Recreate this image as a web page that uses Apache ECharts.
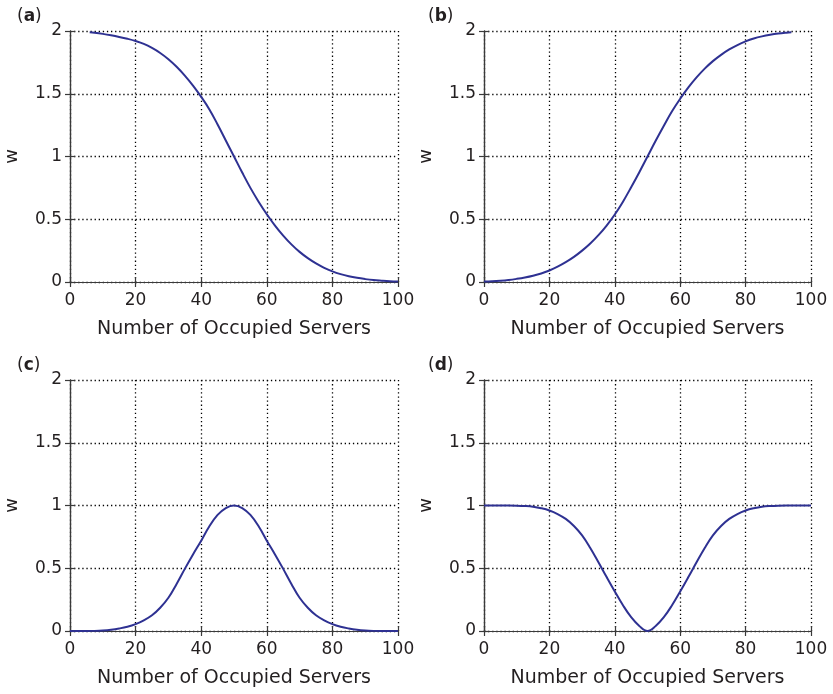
<!DOCTYPE html>
<html>
<head>
<meta charset="utf-8">
<script src="https://cdn.jsdelivr.net/npm/echarts@6/dist/echarts.min.js"></script>
<style>
html,body{margin:0;padding:0;background:#fff;}
#chart{width:833px;height:694px;}
</style>
</head>
<body>
<div id="chart"></div>
<script>
// ---- data ----
const panelLabels = ['a', 'b', 'c', 'd'];
const xTicks = [0, 20, 40, 60, 80, 100];
const yTicks = [0, 0.5, 1, 1.5, 2];
const xName = 'Number of Occupied Servers';
const yName = 'w';

const xA = [6, 7.5, 10, 12.5, 15, 17.5, 20, 22.5, 25, 27.5, 30, 32.5, 35, 37.5, 40, 42.5, 45, 47.5, 50,
            52.5, 55, 57.5, 60, 62.5, 65, 67.5, 70, 72.5, 75, 77.5, 80, 82.5, 85, 87.5, 90, 92.5, 95, 97.5, 100];
const wA = [1.99, 1.986, 1.977, 1.966, 1.953, 1.938, 1.92, 1.897, 1.865, 1.825, 1.775, 1.715, 1.645, 1.565, 1.475, 1.375, 1.255, 1.128, 1.0,
            0.872, 0.75, 0.64, 0.54, 0.45, 0.37, 0.3, 0.24, 0.19, 0.148, 0.113, 0.085, 0.063, 0.046, 0.033, 0.023, 0.015, 0.01, 0.006, 0.004];

const xB = [0, 2.5, 5, 7.5, 10, 12.5, 15, 17.5, 20, 22.5, 25, 27.5, 30, 32.5, 35, 37.5, 40, 42.5, 45, 47.5, 50,
            52.5, 55, 57.5, 60, 62.5, 65, 67.5, 70, 72.5, 75, 77.5, 80, 82.5, 85, 87.5, 90, 92.5, 94];
const wB = [0.004, 0.006, 0.01, 0.016, 0.025, 0.036, 0.05, 0.068, 0.092, 0.122, 0.158, 0.2, 0.25, 0.307, 0.373, 0.45, 0.538, 0.64, 0.755, 0.875, 1.0,
            1.125, 1.245, 1.36, 1.46, 1.55, 1.63, 1.7, 1.76, 1.81, 1.853, 1.888, 1.917, 1.94, 1.957, 1.97, 1.98, 1.987, 1.99];

const xC = [0, 2.5, 5, 7.5, 10, 12.5, 15, 17.5, 20, 22.5, 25, 27.5, 30, 32.5, 35, 37.5, 40, 42.5, 45, 47.5, 50,
            52.5, 55, 57.5, 60, 62.5, 65, 67.5, 70, 72.5, 75, 77.5, 80, 82.5, 85, 87.5, 90, 92.5, 95, 97.5, 100];
const wC = [0, 0, 0, 0.001, 0.004, 0.01, 0.02, 0.034, 0.055, 0.085, 0.125, 0.185, 0.265, 0.375, 0.495, 0.61, 0.72, 0.835, 0.925, 0.98, 1.0,
            0.98, 0.925, 0.835, 0.72, 0.61, 0.495, 0.375, 0.265, 0.185, 0.125, 0.085, 0.055, 0.034, 0.02, 0.01, 0.004, 0.001, 0, 0, 0];

const xD = [0, 2.5, 5, 7.5, 10, 12.5, 15, 17.5, 20, 22.5, 25, 27.5, 30, 32.5, 35, 37.5, 40, 42.5, 45, 47.5, 50,
            52.5, 55, 57.5, 60, 62.5, 65, 67.5, 70, 72.5, 75, 77.5, 80, 82.5, 85, 87.5, 90, 92.5, 95, 97.5, 100];
const wD = [1, 1, 1, 1, 0.999, 0.996, 0.99, 0.978, 0.96, 0.932, 0.893, 0.837, 0.762, 0.662, 0.548, 0.43, 0.315, 0.205, 0.11, 0.04, 0.0,
            0.04, 0.11, 0.205, 0.315, 0.43, 0.548, 0.662, 0.762, 0.837, 0.893, 0.932, 0.96, 0.978, 0.99, 0.996, 0.999, 1, 1, 1, 1];

const seriesX = [xA, xB, xC, xD];
const seriesW = [wA, wB, wC, wD];

// ---- layout ----
const FONT = '"DejaVu Sans", Verdana, sans-serif';
const TXT = '#231f20';
const AX = '#3a3a3a';
const LINE = '#2e3192';
const grids = [
  {left: 70, top: 31, width: 328, height: 251},
  {left: 484, top: 31, width: 327, height: 251},
  {left: 70, top: 380, width: 328, height: 251},
  {left: 484, top: 380, width: 327, height: 251}
];
const labelPos = [[17, 18], [428, 18], [17, 367], [428, 367]];

const xAxes = [], yAxes = [], series = [], graphics = [];
grids.forEach((g, i) => {
  xAxes.push({
    type: 'value', gridIndex: i, min: xTicks[0], max: xTicks[xTicks.length - 1], interval: 20,
    position: 'bottom',
    name: xName, nameLocation: 'middle', nameGap: 38,
    nameTextStyle: {fontFamily: FONT, fontSize: 19, color: TXT},
    axisLine: {show: true, lineStyle: {color: AX, width: 1.2}},
    axisTick: {show: true, inside: true, length: 5, lineStyle: {color: AX, width: 1.2}},
    axisLabel: {fontFamily: FONT, fontSize: 17, color: TXT, margin: 10},
    splitLine: {show: true, lineStyle: {color: '#000', type: [1.3, 2.8], width: 1.3}}
  });
  xAxes.push({
    type: 'value', gridIndex: i, min: 0, max: 100, interval: 20, position: 'top',
    axisLine: {show: true, lineStyle: {color: AX, width: 1.2}},
    axisTick: {show: true, inside: true, length: 5, lineStyle: {color: AX, width: 1.2}},
    axisLabel: {show: false}, splitLine: {show: false}
  });
  yAxes.push({
    type: 'value', gridIndex: i, min: yTicks[0], max: yTicks[yTicks.length - 1], interval: 0.5,
    position: 'left',
    name: yName, nameLocation: 'middle', nameGap: 49,
    nameTextStyle: {fontFamily: FONT, fontSize: 18, color: TXT},
    axisLine: {show: true, lineStyle: {color: AX, width: 1.2}},
    axisTick: {show: true, inside: true, length: 5, lineStyle: {color: AX, width: 1.2}},
    axisLabel: {fontFamily: FONT, fontSize: 17, color: TXT, margin: 8},
    splitLine: {show: true, lineStyle: {color: '#000', type: [1.3, 2.8], width: 1.3}}
  });
  yAxes.push({
    type: 'value', gridIndex: i, min: 0, max: 2, interval: 0.5, position: 'right',
    axisLine: {show: true, lineStyle: {color: AX, width: 1.2}},
    axisTick: {show: true, inside: true, length: 5, lineStyle: {color: AX, width: 1.2}},
    axisLabel: {show: false}, splitLine: {show: false}
  });
  const data = seriesX[i].map((x, k) => [x, seriesW[i][k]]);
  series.push({
    type: 'line', xAxisIndex: 2 * i, yAxisIndex: 2 * i, data: data,
    showSymbol: false, smooth: 0.4,
    lineStyle: {color: LINE, width: 2}, z: 5
  });
  graphics.push({
    type: 'text', left: labelPos[i][0], top: labelPos[i][1] - 10,
    style: {
      text: '({b|' + panelLabels[i] + '})',
      rich: {b: {fontWeight: 'bold', fontFamily: FONT, fontSize: 17, fill: TXT}},
      font: '17px ' + FONT, fill: TXT
    }
  });
});

const chart = echarts.init(document.getElementById('chart'), null, {renderer: 'canvas'});
chart.setOption({
  backgroundColor: '#fff',
  animation: false,
  grid: grids,
  xAxis: xAxes,
  yAxis: yAxes,
  series: series,
  graphic: graphics
});
</script>
</body>
</html>
